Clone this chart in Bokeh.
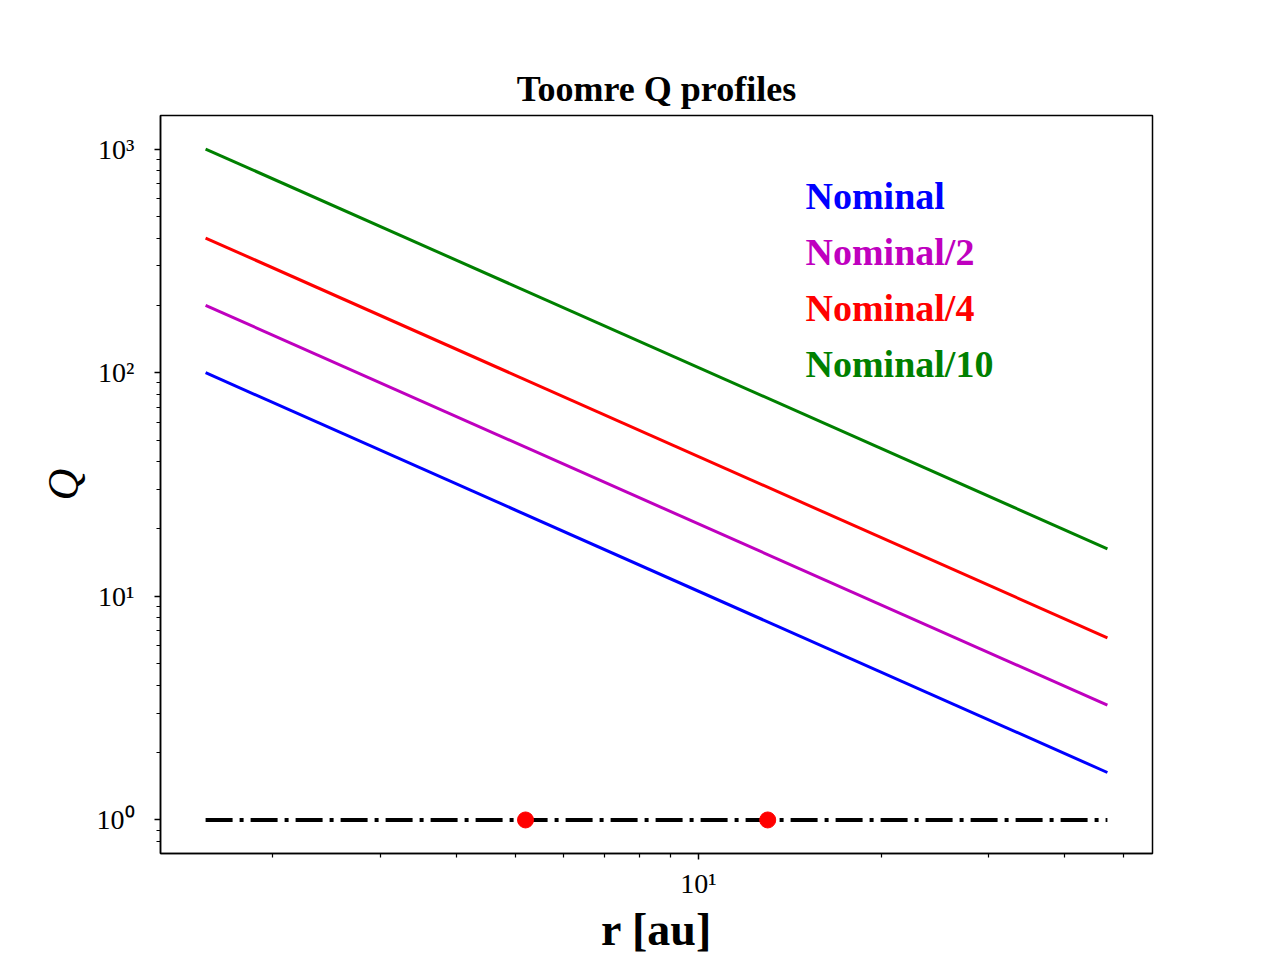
import math
from bokeh.plotting import figure
from bokeh.models import Range1d, FixedTicker, Label
from bokeh.embed import file_html
from bokeh.resources import INLINE

# ---- data ----
r_ends = [1.55, 47.0]                      # radius range of the profiles [au]
q_nominal = [100.0, 1.63]
q_half = [200.0, 3.26]
q_quarter = [400.0, 6.52]
q_tenth = [1000.0, 16.3]
series_labels = ["Nominal", "Nominal/2", "Nominal/4", "Nominal/10"]
series_colors = ["#0000ff", "#bf00bf", "#ff0000", "#008000"]
q_crit = [1.0, 1.0]                          # Q = 1 threshold
dot_r = [5.2, 13.0]                          # marked radii on Q = 1
dot_q = [1.0, 1.0]

x_major = [10]
x_minor = [2, 3, 4, 5, 6, 7, 8, 9, 20, 30, 40, 50]
y_major = [1, 10, 100, 1000]
y_minor = [0.8, 0.9, 2, 3, 4, 5, 6, 7, 8, 9, 20, 30, 40, 50, 60, 70, 80, 90,
           200, 300, 400, 500, 600, 700, 800, 900]
tick_labels = {1: "10⁰", 10: "10¹", 100: "10²", 1000: "10³"}

all_series = [q_nominal, q_half, q_quarter, q_tenth]

# matplotlib-like 5% autoscale margins in log space
def log_range(lo, hi, m=0.05):
    a, b = math.log10(lo), math.log10(hi)
    d = b - a
    return 10 ** (a - m * d), 10 ** (b + m * d)

xlo, xhi = log_range(min(r_ends), max(r_ends))
ally = [v for s in all_series for v in s] + q_crit
ylo, yhi = log_range(min(ally), max(ally))

SERIF = "Liberation Serif"

p = figure(x_axis_type="log", y_axis_type="log",
           x_range=Range1d(xlo, xhi), y_range=Range1d(ylo, yhi),
           frame_width=992, frame_height=738,
           min_border_left=160, min_border_right=128,
           min_border_top=115, min_border_bottom=107,
           output_backend="svg", toolbar_location=None,
           title="Toomre Q profiles")

p.background_fill_color = "white"
p.border_fill_color = "white"
p.outline_line_color = "black"
p.outline_line_width = 1.5
p.grid.visible = False

p.title.text_font = SERIF
p.title.text_font_style = "bold"
p.title.text_font_size = "36px"
p.title.text_color = "black"
p.title.align = "center"
p.title.standoff = 13

for ax in (p.xaxis[0], p.yaxis[0]):
    ax.axis_line_width = 1.5
    ax.axis_line_color = "black"
    ax.major_tick_line_width = 1.5
    ax.minor_tick_line_width = 1.2
    ax.major_tick_line_color = "black"
    ax.minor_tick_line_color = "black"
    ax.major_tick_in = 0
    ax.major_tick_out = 6
    ax.minor_tick_in = 0
    ax.minor_tick_out = 4
    ax.major_label_text_font = SERIF
    ax.major_label_text_font_size = "28px"
    ax.major_label_text_color = "black"
    ax.major_label_overrides = tick_labels
    ax.axis_label_text_font = SERIF
    ax.axis_label_text_color = "black"

p.xaxis.ticker = FixedTicker(ticks=x_major, minor_ticks=[v for v in x_minor if xlo <= v <= xhi])
p.yaxis.ticker = FixedTicker(ticks=y_major, minor_ticks=[v for v in y_minor if ylo <= v <= yhi])

p.xaxis.axis_label = "r [au]"
p.xaxis.axis_label_text_font_style = "bold"
p.xaxis.axis_label_text_font_size = "46px"
p.xaxis.major_label_standoff = 8
p.xaxis.axis_label_standoff = 2

p.yaxis.axis_label = "Q"
p.yaxis.axis_label_text_font_style = "italic"
p.yaxis.axis_label_text_font_size = "44px"
p.yaxis.major_label_standoff = 20
p.yaxis.axis_label_standoff = 6

for s, c in zip(all_series, series_colors):
    p.line(r_ends, s, line_color=c, line_width=3)

p.line(r_ends, q_crit, line_color="black", line_width=4, line_dash="27 7 4 7")
p.scatter(dot_r, dot_q, size=16, fill_color="#ff0000", line_color="#ff0000")

# text-only legend (frame-relative screen coordinates)
for i, (lab, c) in enumerate(zip(series_labels, series_colors)):
    p.add_layout(Label(x=645, y=658 - 56.3 * i, x_units="screen", y_units="screen",
                       text=lab, text_color=c, text_font=SERIF,
                       text_font_style="bold", text_font_size="38px",
                       text_baseline="alphabetic"))

open("out.html", "w").write(file_html(p, INLINE))
